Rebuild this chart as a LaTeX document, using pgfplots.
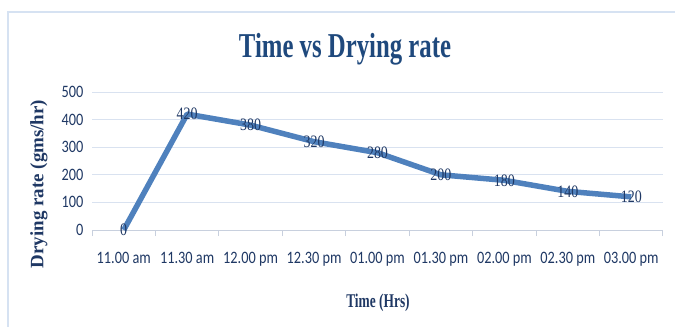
\documentclass[border=0pt]{standalone}
\usepackage{pgfplots}
\pgfplotsset{compat=1.18}
\usepackage{fontspec}
\setmainfont{Liberation Serif}
\newfontfamily\tickfont[FakeStretch=0.82]{Carlito}
\newfontfamily\datafont[FakeStretch=0.8]{Liberation Serif}
\newfontfamily\titlefont[FakeStretch=0.71]{Liberation Serif Bold}
\newfontfamily\labfont[FakeStretch=0.69]{Liberation Serif Bold}
\definecolor{linec}{RGB}{79,129,189}
\definecolor{navy}{RGB}{31,56,100}
\definecolor{titlec}{RGB}{31,73,125}
\definecolor{gridc}{RGB}{217,226,240}
\definecolor{framec}{RGB}{214,226,242}
\definecolor{axc}{RGB}{200,208,222}
\begin{document}
\begin{tikzpicture}
\path[use as bounding box] (0,0) rectangle (675bp,327bp);
\draw[framec, line width=1.5bp] (8bp,0) -- (8bp,315bp) -- (676bp,315bp);
\begin{axis}[
  at={(92bp,97bp)}, anchor=south west,
  scale only axis, width=571bp, height=138bp,
  xmin=-0.5, xmax=8.5, ymin=0, ymax=500,
  xtick={0,...,8},
  xticklabels={11.00 am,11.30 am,12.00 pm,12.30 pm,01.00 pm,01.30 pm,02.00 pm,02.30 pm,03.00 pm},
  ytick={0,100,...,500},
  axis x line*=bottom, axis y line*=left,
  x axis line style={axc, line width=1bp},
  y axis line style={draw=none},
  ytick style={draw=none},
  xtick style={draw=none},
  extra x ticks={-0.5,0.5,...,8.5},
  extra x tick labels={},
  extra x tick style={grid=none, xtick style={draw=axc, line width=1bp}, major tick length=6bp, tick align=outside},
  ymajorgrids, grid style={gridc, line width=1bp},
  ticklabel style={font=\tickfont\fontsize{17.5}{20}\selectfont, text=navy},
  xticklabel style={yshift=-19bp},
  yticklabel style={xshift=-5bp},
  /pgf/number format/assume math mode=true,
  clip=false,
]
\addplot[linec, line width=5.5bp, line join=round,
  nodes near coords, point meta=explicit symbolic,
  every node near coord/.append style={anchor=center, text=navy, font=\datafont\fontsize{17.5}{20}\selectfont, inner sep=0pt}]
  coordinates {(0,0)[0] (1,420)[420] (2,380)[380] (3,320)[320] (4,280)[280] (5,200)[200] (6,180)[180] (7,140)[140] (8,120)[120]};
\end{axis}
\node[anchor=base, text=titlec, font=\titlefont\fontsize{35}{38}\selectfont] at (345bp,269bp) {Time vs Drying rate};
\node[anchor=base, text=navy, font=\labfont\fontsize{19.5}{22}\selectfont] at (378bp,20bp) {Time (Hrs)};
\node[rotate=90, text=navy, font=\bfseries\fontsize{19}{21}\selectfont] at (39bp,143bp) {Drying rate (gms/hr)};
\end{tikzpicture}
\end{document}
